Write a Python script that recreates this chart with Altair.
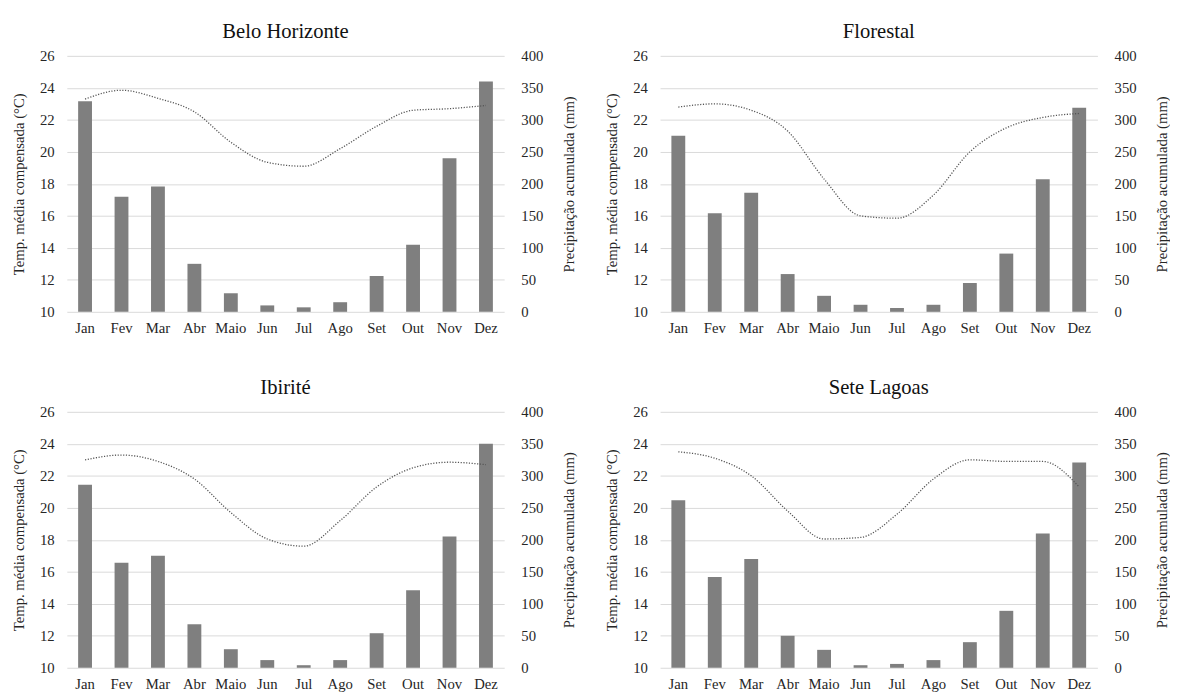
import altair as alt
import pandas as pd

months = ["Jan", "Fev", "Mar", "Abr", "Maio", "Jun", "Jul", "Ago", "Set", "Out", "Nov", "Dez"]

stations = ["Belo Horizonte", "Florestal", "Ibirité", "Sete Lagoas"]

temp_bh = [23.3, 23.85, 23.35, 22.5, 20.6, 19.35, 19.1, 20.2, 21.6, 22.6, 22.7, 22.9]
prec_bh = [329, 180, 196, 75, 29, 10, 7, 15, 56, 105, 240, 360]

temp_fl = [22.8, 23.0, 22.6, 21.3, 18.3, 16.0, 15.85, 17.3, 20.0, 21.5, 22.15, 22.4]
prec_fl = [275, 154, 186, 59, 25, 11, 6, 11, 45, 91, 207, 319]

temp_ib = [23.0, 23.3, 22.9, 21.8, 19.7, 18.05, 17.6, 19.2, 21.3, 22.5, 22.85, 22.7]
prec_ib = [286, 164, 175, 68, 29, 12, 4, 12, 54, 121, 205, 350]

temp_sl = [23.5, 23.1, 22.0, 19.8, 18.05, 18.15, 19.6, 21.8, 23.0, 22.9, 22.9, 21.3]
prec_sl = [262, 142, 170, 50, 28, 4, 6, 12, 40, 89, 210, 321]

temp_ticks = [10, 12, 14, 16, 18, 20, 22, 24, 26]
prec_ticks = [0, 50, 100, 150, 200, 250, 300, 350, 400]

FONT = "Liberation Serif"
TXT = "#262626"
W, H = 446, 261


def panel(name, temps, precs):
    df = pd.DataFrame({"Mês": months, "Temp": temps, "Prec": precs})
    base = alt.Chart(df).encode(
        x=alt.X(
            "Mês:N",
            sort=months,
            scale=alt.Scale(paddingInner=0.62, paddingOuter=0.31),
            axis=alt.Axis(
                title=None, labelAngle=0, ticks=False, domain=False, labelPadding=9,
                labelFont=FONT, labelFontSize=15, labelColor=TXT,
            ),
        )
    )
    bars = base.mark_bar(color="#7f7f7f").encode(
        y=alt.Y(
            "Prec:Q",
            scale=alt.Scale(domain=[0, 400], nice=False),
            axis=alt.Axis(
                orient="right",
                values=prec_ticks,
                grid=False,
                ticks=False,
                domain=False,
                title="Precipitação acumulada (mm)",
                titleAngle=270,
                titleBaseline="top",
                titlePadding=19,
                labelPadding=17,
                labelFont=FONT, labelFontSize=15, labelColor=TXT,
                titleFont=FONT, titleFontSize=15, titleFontWeight="normal", titleColor=TXT,
            ),
        )
    )
    line = base.mark_line(
        color="#555555", strokeWidth=1.3, strokeDash=[1.2, 1.6], interpolate="monotone"
    ).encode(
        y=alt.Y(
            "Temp:Q",
            scale=alt.Scale(domain=[10, 26], nice=False, zero=False),
            axis=alt.Axis(
                orient="left",
                values=temp_ticks,
                grid=True,
                gridColor="#d9d9d9",
                ticks=False,
                domain=False,
                title="Temp. média compensada (°C)",
                titlePadding=13,
                labelPadding=13,
                labelFont=FONT, labelFontSize=15, labelColor=TXT,
                titleFont=FONT, titleFontSize=15, titleFontWeight="normal", titleColor=TXT,
            ),
        )
    )
    return (
        alt.layer(bars, line)
        .resolve_scale(y="independent")
        .properties(
            width=W,
            height=H,
            title=alt.TitleParams(
                name, offset=7, font=FONT, fontSize=21, fontWeight="normal", color="#111111", anchor="middle"
            ),
        )
    )


top = alt.hconcat(panel(stations[0], temp_bh, prec_bh), panel(stations[1], temp_fl, prec_fl), spacing=29)
bottom = alt.hconcat(panel(stations[2], temp_ib, prec_ib), panel(stations[3], temp_sl, prec_sl), spacing=29)

chart = (
    alt.vconcat(top, bottom, spacing=43)
    .properties(padding={"left": 4, "top": 7, "right": 0, "bottom": 0})
    .configure_view(stroke=None)
)

chart.save("out.html", embed_options={"renderer": "svg", "actions": False})
